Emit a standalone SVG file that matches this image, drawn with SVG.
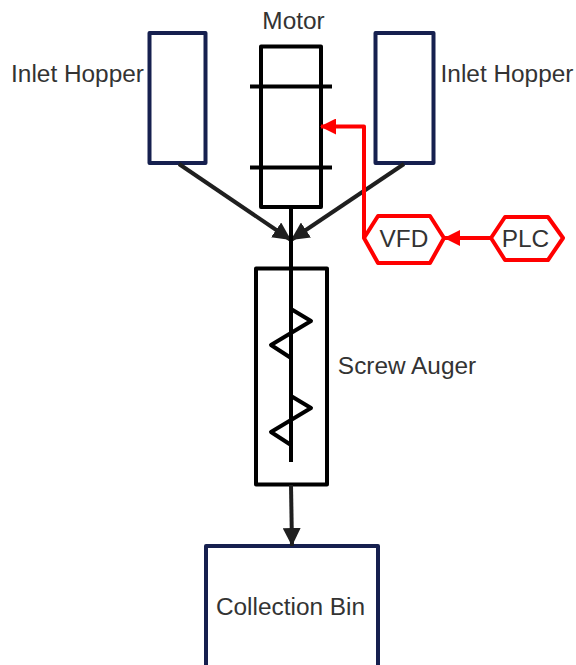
<svg xmlns="http://www.w3.org/2000/svg" width="576" height="665" viewBox="0 0 576 665">
<defs>
<marker id="ab" markerUnits="userSpaceOnUse" markerWidth="18" markerHeight="18" refX="16" refY="8" orient="auto" viewBox="0 0 16 16"><path d="M0 0L16 8L0 16Z" fill="#1f1f1f"/></marker>
<marker id="ar" markerUnits="userSpaceOnUse" markerWidth="16" markerHeight="16" refX="15" refY="8" orient="auto" viewBox="0 0 16 16"><path d="M0 0L16 8L0 16Z" fill="#ff0000"/></marker>
</defs>
<style>
text{font-family:"Liberation Sans",Arial,sans-serif;font-size:24.400px;fill:#333;text-anchor:middle}
.nb{fill:#fff;stroke:#16204f;stroke-width:4;stroke-linejoin:round}
.bk{fill:none;stroke:#000;stroke-width:4;stroke-linejoin:round}
.rd{fill:#fff;stroke:#ff0000;stroke-width:4;stroke-linejoin:round}
.cb{fill:none;stroke:#1f1f1f;stroke-width:4}
.cr{fill:none;stroke:#ff0000;stroke-width:4;stroke-linejoin:round}
</style>
<rect width="576" height="665" fill="#fff"/>
<g id="hopper-left"><rect class="nb" x="149.500" y="33" width="56" height="130"/><text x="77.500" y="82">Inlet Hopper</text></g>
<g id="hopper-right"><rect class="nb" x="375.500" y="33" width="58" height="130"/><text x="507" y="82">Inlet Hopper</text></g>
<g id="motor"><rect class="bk" x="261" y="46.500" width="60" height="160.500"/><path class="bk" d="M250 86.500H332M250 167.500H332"/><text x="293.500" y="29">Motor</text></g>
<g id="auger"><rect class="bk" x="256" y="268.500" width="71" height="216"/><path class="bk" d="M291 309L311 321L271 345L291 358M291 396L311 408L271 432L291 445"/><text x="407" y="374">Screw Auger</text></g>
<g id="bin"><path class="nb" d="M206 667V546H378V667"/><text x="290.500" y="615">Collection Bin</text></g>
<g id="vfd"><polygon class="rd" points="364,238 378,216 430,216 444,238 430,263 378,263"/><text x="404" y="247">VFD</text></g>
<g id="plc"><polygon class="rd" points="491,238 505,217 548,217 563,238 548,260 505,260"/><text x="525.500" y="247">PLC</text></g>
<g id="connectors">
<path class="cb" d="M179 164L291 240" marker-end="url(#ab)"/>
<path class="cb" d="M404 164L291 240" marker-end="url(#ab)"/>
<path class="cb" d="M291 208V462" style="stroke:#000"/>
<path class="cb" d="M291 485L292 546" marker-end="url(#ab)"/>
<path class="cr" d="M364 238V126.500H321" marker-end="url(#ar)"/>
<path class="cr" d="M491 238H445" marker-end="url(#ar)"/>
</g>
</svg>
